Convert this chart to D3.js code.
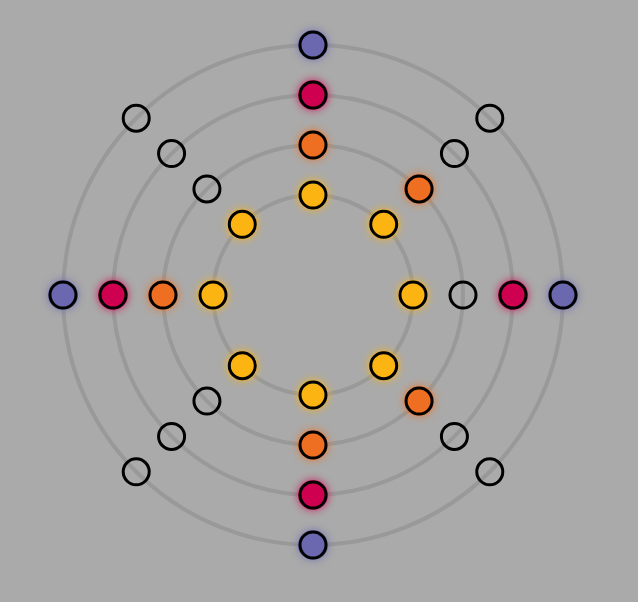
<!DOCTYPE html>
<html><head><meta charset="utf-8">
<script src="https://cdn.jsdelivr.net/npm/d3@7"></script>
<style>html,body{margin:0;padding:0;background:#aaaaaa;}svg{display:block;}</style>
</head><body>
<script>
const rings = [2, 3, 4, 5];
const directions = [0, 45, 90, 135, 180, 225, 270, 315]; // degrees clockwise from top
const ringColors = ["#fcb412", "#ef6f22", "#cf0050", "#6b68b0"];
const filled = [
  [1,1,1,1,1,1,1,1],
  [1,1,0,1,1,0,1,0],
  [1,0,1,0,1,0,1,0],
  [1,0,1,0,1,0,1,0]
];

const W = 638, H = 602, cx = 313, cy = 295;
const svg = d3.select("body").append("svg").attr("width", W).attr("height", H);
svg.append("rect").attr("width", W).attr("height", H).attr("fill", "#aaaaaa");
const defs = svg.append("defs");
const f = defs.append("filter").attr("id","glow").attr("x","-100%").attr("y","-100%").attr("width","300%").attr("height","300%");
f.append("feGaussianBlur").attr("in","SourceGraphic").attr("stdDeviation",4).attr("result","b");
const m = f.append("feMerge");
m.append("feMergeNode").attr("in","b");
m.append("feMergeNode").attr("in","SourceGraphic");

const r = d3.scaleLinear().domain([0, 5]).range([0, 250]);
const g = svg.append("g").attr("transform", `translate(${cx},${cy})`);
g.selectAll("circle.ring").data(rings).join("circle")
  .attr("class","ring").attr("r", d => r(d))
  .attr("fill","none").attr("stroke","#999999").attr("stroke-width",4);

const pts = [];
rings.forEach((ring, i) => directions.forEach((a, j) => {
  const rad = a * Math.PI / 180;
  pts.push({x: r(ring) * Math.sin(rad), y: -r(ring) * Math.cos(rad), fill: filled[i][j] ? ringColors[i] : null});
}));
const glow = g.append("g");
glow.selectAll("circle").data(pts.filter(p => p.fill)).join("circle")
  .attr("cx", d => d.x).attr("cy", d => d.y).attr("r", 15)
  .attr("fill", d => d.fill).attr("opacity",0.8).attr("filter","url(#glow)");
g.append("g").selectAll("circle").data(pts).join("circle")
  .attr("cx", d => d.x).attr("cy", d => d.y).attr("r", 13)
  .attr("fill", d => d.fill || "none")
  .attr("stroke", "#000").attr("stroke-width", 3);
</script>
</body></html>
